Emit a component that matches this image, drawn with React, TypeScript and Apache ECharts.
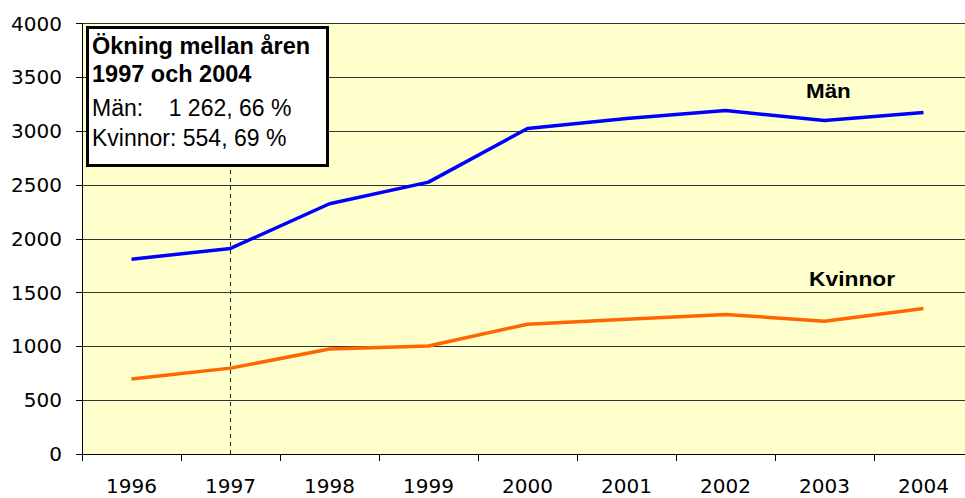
import React, { useEffect, useRef } from "react";
import * as echarts from "echarts";

const years = ["1996", "1997", "1998", "1999", "2000", "2001", "2002", "2003", "2004"];
const man = [1810, 1910, 2325, 2526, 3024, 3117, 3191, 3098, 3172];
const kvinnor = [697, 798, 975, 1004, 1206, 1252, 1296, 1234, 1352];
const boxTitle = ["Ökning mellan åren", "1997 och 2004"];
const boxLines = ["Män:    1 262, 66 %", "Kvinnor: 554, 69 %"];

const FONT = "'Liberation Sans', Arial, sans-serif";
const AXFONT = "'DejaVu Sans', sans-serif";

export default function App() {
  const ref = useRef<HTMLDivElement>(null);
  useEffect(() => {
    if (!ref.current) return;
    const chart = echarts.init(ref.current, null, { renderer: "svg" });
    chart.setOption({
      animation: false,
      backgroundColor: "#ffffff",
      grid: {
        left: 82,
        top: 23.5,
        width: 891,
        height: 430.5,
        show: true,
        backgroundColor: "#FFFFCC",
        borderWidth: 0,
        containLabel: false,
        outerBoundsMode: "none",
      },
      xAxis: {
        type: "category",
        data: years,
        boundaryGap: true,
        axisLine: { lineStyle: { color: "#000", width: 1 } },
        axisTick: { show: true, length: 7, lineStyle: { color: "#000" } },
        axisLabel: { color: "#000", fontSize: 20, fontFamily: AXFONT, margin: 22 },
        splitLine: { show: false },
      },
      yAxis: {
        type: "value",
        min: 0,
        max: 4000,
        interval: 500,
        axisLine: { show: true, lineStyle: { color: "#000", width: 1 } },
        axisTick: { show: true, length: 6, lineStyle: { color: "#000" } },
        axisLabel: {
          color: "#000",
          fontSize: 20,
          fontFamily: AXFONT,
          margin: 20,
          formatter: (v: number) => String(v),
        },
        splitLine: { show: true, lineStyle: { color: "#333", width: 1 } },
      },
      series: [
        {
          name: "Män",
          type: "line",
          data: man,
          symbol: "none",
          lineStyle: { color: "#0000FF", width: 3.5 },
          z: 3,
          markLine: {
            silent: true,
            symbol: "none",
            label: { show: false },
            lineStyle: { color: "#222", type: [4, 4], width: 1 },
            data: [{ xAxis: "1997" }],
          },
        },
        {
          name: "Kvinnor",
          type: "line",
          data: kvinnor,
          symbol: "none",
          lineStyle: { color: "#FF6600", width: 3.5 },
          z: 3,
        },
      ],
      graphic: [
        {
          type: "text",
          x: 806,
          y: 90.5,
          scaleX: 1.12,
          z: 10,
          style: {
            text: "Män",
            font: `bold 20px ${FONT}`,
            fill: "#000",
            textVerticalAlign: "middle",
          } as any,
        },
        {
          type: "text",
          x: 809,
          y: 279,
          scaleX: 1.14,
          z: 10,
          style: {
            text: "Kvinnor",
            font: `bold 20px ${FONT}`,
            fill: "#000",
            textVerticalAlign: "middle",
          } as any,
        },
        {
          type: "rect",
          z: 20,
          shape: { x: 87.5, y: 27.5, width: 240, height: 138 },
          style: { fill: "#fff", stroke: "#000", lineWidth: 3 },
        },
        {
          type: "text",
          x: 92,
          y: 45.5,
          z: 21,
          style: { text: boxTitle[0], font: `bold 23.5px ${FONT}`, fill: "#000", textVerticalAlign: "middle" } as any,
        },
        {
          type: "text",
          x: 92,
          y: 74,
          z: 21,
          style: { text: boxTitle[1], font: `bold 23.5px ${FONT}`, fill: "#000", textVerticalAlign: "middle" } as any,
        },
        {
          type: "text",
          x: 92,
          y: 107.5,
          z: 21,
          style: { text: boxLines[0], font: `23px ${FONT}`, fill: "#000", textVerticalAlign: "middle" } as any,
        },
        {
          type: "text",
          x: 92,
          y: 138,
          z: 21,
          style: { text: boxLines[1], font: `23px ${FONT}`, fill: "#000", textVerticalAlign: "middle" } as any,
        },
      ],
    });
    return () => chart.dispose();
  }, []);
  return <div ref={ref} style={{ width: 965, height: 498, position: "absolute", left: 0, top: 0 }} />;
}
